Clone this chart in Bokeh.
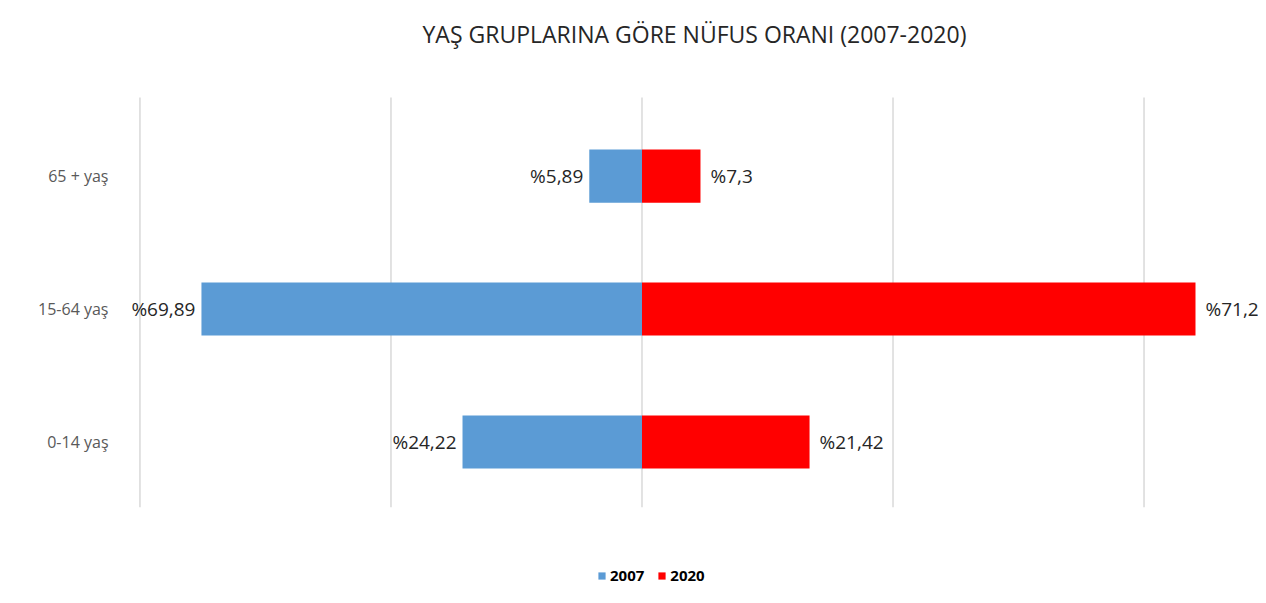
from bokeh.plotting import figure
from bokeh.models import Range1d, FixedTicker, ColumnDataSource, Label, Legend, LegendItem
from bokeh.embed import file_html
from bokeh.resources import INLINE
from bokeh.core.properties import value

# ---- data ----
categories = ["0-14 yaş", "15-64 yaş", "65 + yaş"]
cat_pos = [0, 1, 2]
# bar lengths as drawn in the reference (axis units, gridline every 20)
bar_2007 = [14.3, 35.1, 4.2]
bar_2020 = [13.35, 44.1, 4.66]
# printed data labels
labels_2007 = ["%24,22", "%69,89", "%5,89"]
labels_2020 = ["%21,42", "%71,2", "%7,3"]
grid_ticks = [-40, -20, 0, 20, 40]
title_text = "YAŞ GRUPLARINA GÖRE NÜFUS ORANI (2007-2020)"
series_names = ["2007", "2020"]

BLUE = "#5B9BD5"
RED = "#FF0000"
FONT = "Open Sans"
GRID_Y = (-0.49, 2.59)   # vertical extent of the plot area

p = figure(width=1258, height=587, output_backend="svg", toolbar_location=None,
           x_range=Range1d(-41.55, 49.12), y_range=Range1d(-1.094, 3.32),
           min_border_left=120, min_border_right=0, min_border_top=0, min_border_bottom=0)
p.outline_line_color = None
p.background_fill_color = "white"
p.border_fill_color = "white"

# gridlines limited to the plot area
p.segment(x0=grid_ticks, x1=grid_ticks, y0=[GRID_Y[0]] * len(grid_ticks), y1=[GRID_Y[1]] * len(grid_ticks),
          line_color="#D9D9D9", line_width=1.5)

src = ColumnDataSource(dict(
    y=cat_pos,
    l07=[-v for v in bar_2007],
    r20=bar_2020,
    t07=labels_2007,
    t20=labels_2020,
))

r07 = p.hbar(y="y", left="l07", right=0, height=0.4, source=src, fill_color=BLUE, line_color=None)
r20 = p.hbar(y="y", left=0, right="r20", height=0.4, source=src, fill_color=RED, line_color=None)

p.text(x="l07", y="y", text="t07", source=src, text_align="right", text_baseline="middle",
       x_offset=-6, text_font=value(FONT), text_font_size="19px", text_color="#262626")
p.text(x="r20", y="y", text="t20", source=src, text_align="left", text_baseline="middle",
       x_offset=10, text_font=value(FONT), text_font_size="19px", text_color="#262626")

p.xgrid.grid_line_color = None
p.ygrid.grid_line_color = None

# axes
p.xaxis.visible = False
p.yaxis.ticker = FixedTicker(ticks=cat_pos)
p.yaxis.major_label_overrides = {i: c for i, c in zip(cat_pos, categories)}
p.yaxis.axis_line_color = None
p.yaxis.major_tick_line_color = None
p.yaxis.minor_tick_line_color = None
p.yaxis.major_label_standoff = 6
p.yaxis.major_label_text_font = FONT
p.yaxis.major_label_text_font_size = "16px"
p.yaxis.major_label_text_color = "#595959"

# title
p.add_layout(Label(x=4.18, y=3.07, text=title_text, text_align="center", text_baseline="middle",
                   text_font=FONT, text_font_size="23px", text_color="#262626"))

# legend
legend = Legend(items=[LegendItem(label=series_names[0], renderers=[r07]),
                       LegendItem(label=series_names[1], renderers=[r20])],
                orientation="horizontal", location=(477, 2),
                glyph_width=9, glyph_height=9, label_standoff=4, spacing=13,
                padding=0, margin=0, border_line_color=None, background_fill_alpha=0,
                label_text_font=FONT, label_text_font_size="15px", label_text_font_style="bold",
                label_text_color="#000000")
p.add_layout(legend)

open("out.html", "w").write(file_html(p, INLINE))
